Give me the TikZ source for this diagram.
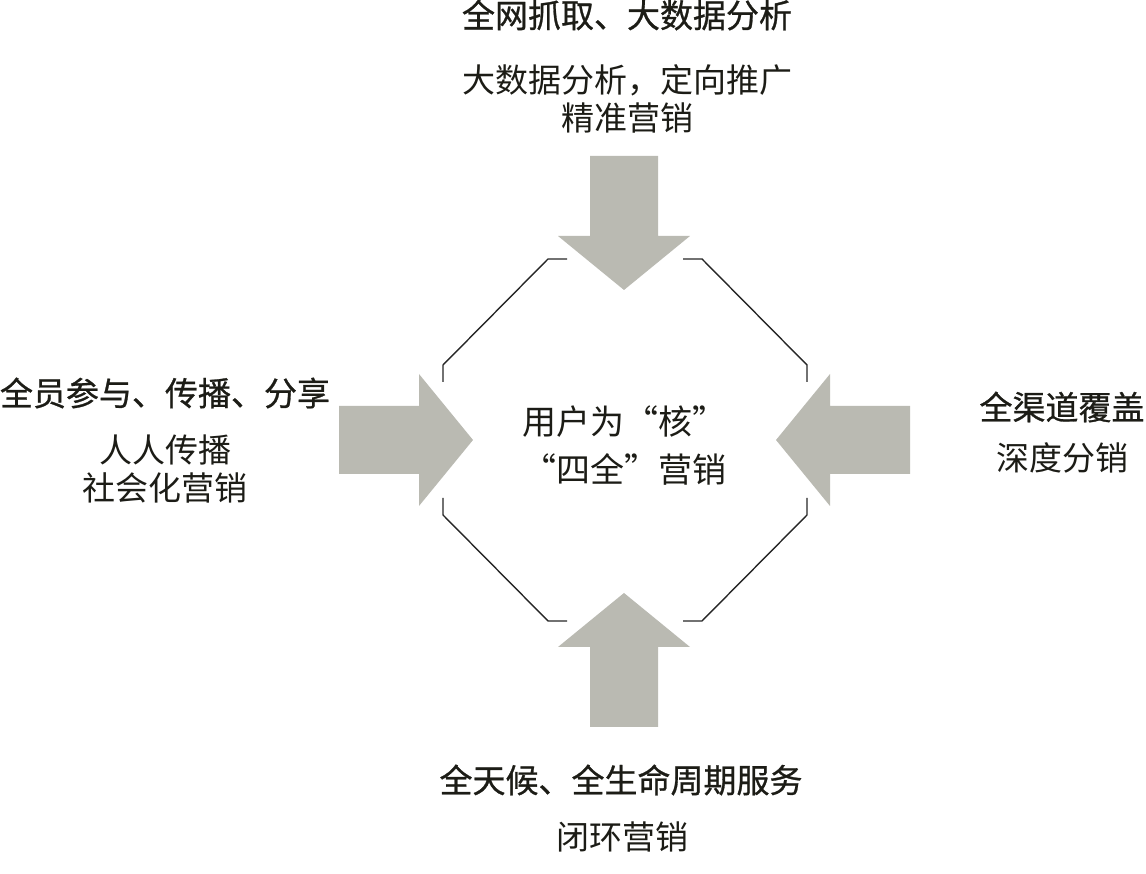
\documentclass[tikz,border=0pt]{standalone}
\usepackage{fontspec}
\newfontfamily\cjk{Noto Sans CJK SC}
\newfontfamily\cjkhead[FakeBold=0.8]{Noto Sans CJK SC}
\definecolor{arrowgray}{RGB}{186,186,178}
\definecolor{inkdark}{RGB}{28,28,22}

\begin{document}
\begin{tikzpicture}[x=1pt,y=1pt]
    \tikzstyle{big arrow}=[fill=arrowgray]
    \tikzstyle{bracket}=[draw=black!85, line width=1.4pt]
    \tikzstyle{note text}=[inner sep=0pt, text=inkdark, align=center, font=\cjk\fontsize{33}{38}\selectfont]
    \tikzstyle{head text}=[note text, font=\cjkhead\fontsize{33}{38}\selectfont]
    \tikzstyle{core text}=[note text, font=\cjk\fontsize{34}{48}\selectfont]

    \useasboundingbox (0,0) rectangle (1146,874);

    % Draw the four arrows, each one pointing at the core
    \foreach \x / \y / \a in {473/434/0, 776/434/180, 624/584/-90, 624/281/90}
        \fill[big arrow, shift={(\x,\y)}, rotate=\a]
            (0,0) -- (-54,66) -- (-54,34) -- (-134,34) -- (-134,-34)
            -- (-54,-34) -- (-54,-66) -- cycle;

    % Draw the octagon brackets round the core
    \foreach \sx / \sy in {1/1, -1/1, 1/-1, -1/-1}
        \draw[bracket, shift={(625,434)}]
            (\sx*58,\sy*181) -- (\sx*77,\sy*181) -- (\sx*182,\sy*75) -- (\sx*182,\sy*58);

    % The core
    \node[core text] (core) at (624,428) {用户为“核”\\“四全”营销};

    % Annotate the four sides
    \node[head text] (T-head) at (627,859) {全网抓取、大数据分析};
    \node[note text] (T-sub) at (627,775) {大数据分析，定向推广\\精准营销};
    \node[head text] (L-head) at (165,481) {全员参与、传播、分享};
    \node[note text] (L-sub) at (165,405) {人人传播\\社会化营销};
    \node[head text] (R-head) at (1062,467) {全渠道覆盖};
    \node[note text] (R-sub) at (1062,416) {深度分销};
    \node[head text] (B-head) at (621,94) {全天候、全生命周期服务};
    \node[note text] (B-sub) at (622,37) {闭环营销};
\end{tikzpicture}
\end{document}
